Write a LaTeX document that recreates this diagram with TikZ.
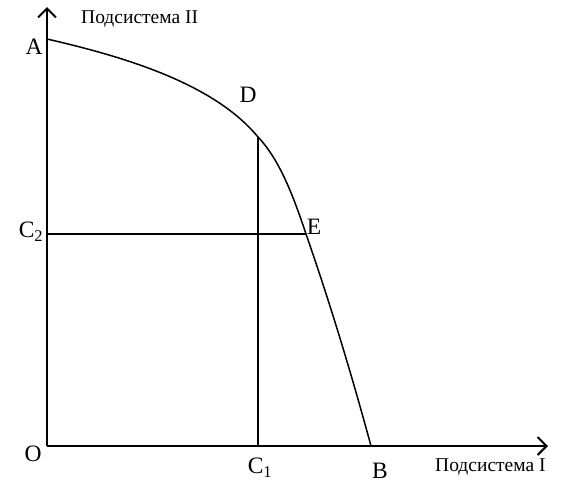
\documentclass[tikz,border=0pt]{standalone}
\usepackage{fontspec}
\setmainfont{Liberation Serif}
\usetikzlibrary{arrows.meta}
\begin{document}
\begin{tikzpicture}[x=1pt,y=-1pt,
  axis/.style={line width=2pt,-{Straight Barb[length=9pt,width=18pt,line width=2pt]}},
  thin/.style={line width=1.5pt},
  pt/.style={font=\fontsize{23.5}{25}\selectfont,inner sep=0pt},
  ax/.style={font=\fontsize{19.5}{21}\selectfont,inner sep=0pt}]
\useasboundingbox (0,0) rectangle (565,483);
\coordinate (O) at (47,446);
\coordinate (Ytop) at (47,7);
\coordinate (Xend) at (548,446);
\coordinate (Apt) at (47,39);
\coordinate (Dpt) at (258,137);
\coordinate (Ept) at (306,234);
\coordinate (Bpt) at (371,446);
\coordinate (C1pt) at (258,446);
\coordinate (C2pt) at (47,234);
\draw[axis] (O) -- (Ytop);
\draw[axis] (O) -- (Xend);
\draw[thin] (Apt) .. controls (130,58) and (215,85) .. (Dpt)
  .. controls (280,160) and (294,198) .. (Ept)
  .. controls (322,280) and (345,350) .. (Bpt);
\draw[thin] (C1pt) -- (Dpt);
\draw[thin] (C2pt) -- (Ept);
\node[pt] (A) at (34,47) {A};
\node[pt] (D) at (248,95) {D};
\node[pt] (E) at (314,227) {E};
\node[pt] (C2) at (31,232) {C\textsubscript{2}};
\node[pt] (O0) at (33,454) {O};
\node[pt] (C1) at (260,468) {C\textsubscript{1}};
\node[pt] (B) at (380,471) {B};
\node[ax,anchor=west] (Y) at (81,19) {Подсистема II};
\node[ax,anchor=west] (X) at (435,467) {Подсистема I};
\end{tikzpicture}
\end{document}
